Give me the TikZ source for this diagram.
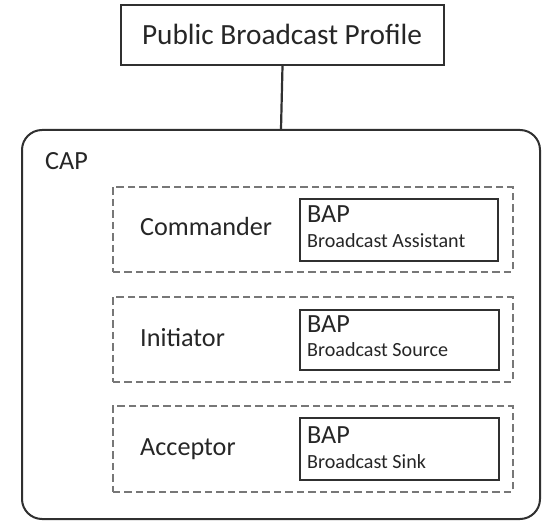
\documentclass[tikz,border=0pt]{standalone}
\usepackage{fontspec}
\setmainfont{Carlito}
\definecolor{ink}{HTML}{262626}
\definecolor{edge}{HTML}{303030}
\definecolor{dash}{HTML}{777777}
\begin{document}
\begin{tikzpicture}[x=1pt,y=-1pt,
  solidbox/.style={draw=edge, line width=2pt, rectangle, inner sep=0pt, anchor=north west},
  capbox/.style={draw=edge, line width=2pt, rectangle, rounded corners=20pt, inner sep=0pt, anchor=north west},
  dashbox/.style={draw=dash, line width=1.6pt, dash pattern=on 7.5pt off 4pt, rectangle, inner sep=0pt, anchor=north west},
  txt/.style={text=ink, inner sep=0pt, anchor=base west},
  big/.style={txt, font=\fontsize{29.3}{34}\selectfont},
  mid/.style={txt, font=\fontsize{26.2}{30}\selectfont},
  small/.style={txt, font=\fontsize{20.1}{24}\selectfont},
  link/.style={draw=edge, line width=2.2pt}]
\useasboundingbox (0,0) rectangle (552,529);
% top box
\node[solidbox, minimum width=323pt, minimum height=60pt] (pbp) at (120,4) {};
\node[big, anchor=base] (pbpt) at (282,45) {Public Broadcast Profile};
% CAP box
\node[capbox, minimum width=518pt, minimum height=389pt] (cap) at (21,129) {};
\node[mid] (capt) at (45,170) {CAP};
\draw[link] (pbp.south) -- (cap.north);
% dashed groups
\node[dashbox, minimum width=400pt, minimum height=85pt] (g1) at (112,186) {};
\node[dashbox, minimum width=400pt, minimum height=85pt] (g2) at (112,296) {};
\node[dashbox, minimum width=400pt, minimum height=86pt] (g3) at (112,405) {};
% role labels
\node[mid] (r1) at (140,236) {Commander};
\node[mid] (r2) at (140,347) {Initiator};
\node[mid] (r3) at (140,455) {Acceptor};
% BAP boxes
\node[solidbox, minimum width=198pt, minimum height=62pt] (b1) at (299,198) {};
\node[solidbox, minimum width=199pt, minimum height=60pt] (b2) at (299,309) {};
\node[solidbox, minimum width=199pt, minimum height=62pt] (b3) at (299,417) {};
\node[mid] (b1a) at (307,223) {BAP};
\node[small] (b1b) at (307,248) {Broadcast Assistant};
\node[mid] (b2a) at (307,333) {BAP};
\node[small] (b2b) at (307,357) {Broadcast Source};
\node[mid] (b3a) at (307,443) {BAP};
\node[small] (b3b) at (307,468) {Broadcast Sink};
\end{tikzpicture}
\end{document}
